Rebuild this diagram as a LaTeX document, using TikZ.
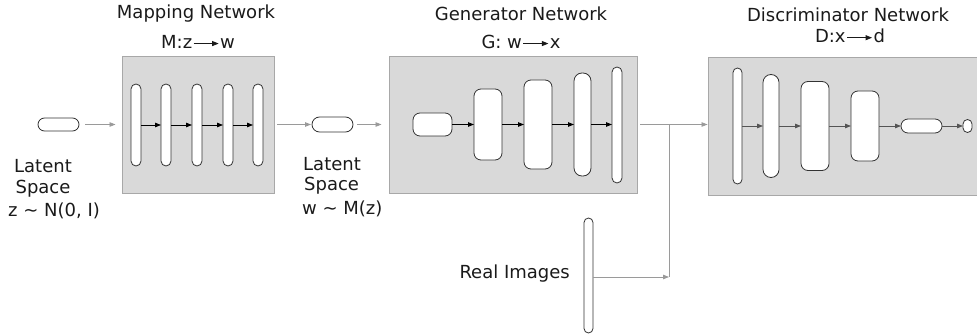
\documentclass[tikz,border=0pt]{standalone}
\usepackage{fontspec}
\setmainfont{DejaVu Sans}
\usetikzlibrary{arrows.meta}
\definecolor{panelfill}{HTML}{D9D9D9}
\definecolor{panelline}{HTML}{A8A8A8}
\definecolor{blkline}{HTML}{333333}
\definecolor{grayline}{HTML}{9A9A9A}
\definecolor{darkarrow}{HTML}{555555}
\definecolor{txt}{HTML}{1A1A1A}
\newcommand{\maparrow}{\hspace{1pt}\tikz[x=1pt,y=1pt,baseline=0pt]{\draw[line width=0.9pt,draw=txt,-{Triangle[length=6.5pt,width=5pt]}] (0,5) -- (25,5);}\hspace{1pt}}
\begin{document}
\begin{tikzpicture}[x=1pt,y=-1pt,
  panel/.style={draw=panelline, fill=panelfill, line width=0.9pt, inner sep=0pt},
  blk/.style={draw=blkline, fill=white, line width=0.8pt, inner sep=0pt, outer sep=0pt},
  lbl/.style={font=\fontsize{18}{21}\selectfont, text=txt, inner sep=0pt},
  blkarrow/.style={draw=black, -{Triangle[length=6pt,width=4.5pt]}, line width=0.8pt},
  darrow/.style={draw=darkarrow, -{Triangle[length=6pt,width=4.5pt]}, line width=0.8pt},
  grayarrow/.style={draw=grayline, -{Triangle[length=6pt,width=4.5pt]}, line width=0.8pt},
  grayline/.style={draw=grayline, line width=0.8pt},
]
\useasboundingbox (0,0) rectangle (977,334);

% ---------- panels ----------
\node[panel, minimum width=152pt, minimum height=137pt] (mapbox) at (198,124.5) {};
\node[panel, minimum width=248pt, minimum height=137pt] (genbox) at (513,124.5) {};
\node[panel, minimum width=270pt, minimum height=138pt] (discbox) at (843,126) {};

% ---------- titles ----------
\node[lbl] (maptitle) at (196,14) {Mapping Network};
\node[lbl] (mapfun) at (198,42) {M:z\maparrow w};
\node[lbl] (gentitle) at (521,14) {Generator Network};
\node[lbl] (genfun) at (521,42) {G: w\maparrow x};
\node[lbl] (disctitle) at (848,15) {Discriminator Network};
\node[lbl] (discfun) at (850,36) {D:x\maparrow d};

% ---------- latent z ----------
\node[blk, minimum width=41pt, minimum height=13pt, rounded corners=6.5pt] (zin) at (58.5,124.5) {};
\node[lbl] (zl1) at (43,166) {Latent};
\node[lbl] (zl2) at (43,189) {Space};
\node[lbl] (zl3) at (54,211) {z \textasciitilde{} N(0, I)};

% ---------- mapping bars ----------
\node[blk, minimum width=10pt, minimum height=82pt, rounded corners=5pt] (m1) at (136,125) {};
\node[blk, minimum width=10pt, minimum height=82pt, rounded corners=5pt] (m2) at (166,125) {};
\node[blk, minimum width=10pt, minimum height=82pt, rounded corners=5pt] (m3) at (197,125) {};
\node[blk, minimum width=10pt, minimum height=82pt, rounded corners=5pt] (m4) at (228,125) {};
\node[blk, minimum width=10pt, minimum height=82pt, rounded corners=5pt] (m5) at (258,125) {};
\draw[blkarrow] (m1) -- (m2);
\draw[blkarrow] (m2) -- (m3);
\draw[blkarrow] (m3) -- (m4);
\draw[blkarrow] (m4) -- (m5);

% ---------- latent w ----------
\node[blk, minimum width=41pt, minimum height=15pt, rounded corners=7.5pt] (win) at (332.5,124.5) {};
\node[lbl, anchor=west] (wl1) at (303,164) {Latent};
\node[lbl, anchor=west] (wl2) at (304,186) {Space};
\node[lbl, anchor=west] (wl3) at (302,209) {w \textasciitilde{} M(z)};

\draw[grayarrow, shorten <=6pt, shorten >=6pt] (zin) -- (mapbox);
\draw[grayarrow, shorten <=3pt, shorten >=1pt] (mapbox) -- (win);
\draw[grayarrow, shorten <=4pt, shorten >=7pt] (win) -- (genbox);

% ---------- generator ----------
\node[blk, minimum width=39pt, minimum height=23pt, rounded corners=7pt] (g1) at (432.5,124.5) {};
\node[blk, minimum width=28pt, minimum height=71pt, rounded corners=7pt] (g2) at (488,124.5) {};
\node[blk, minimum width=28pt, minimum height=89pt, rounded corners=7pt] (g3) at (538,124.5) {};
\node[blk, minimum width=17pt, minimum height=103pt, rounded corners=8pt] (g4) at (582.5,124.5) {};
\node[blk, minimum width=10pt, minimum height=116pt, rounded corners=5pt] (g5) at (617,125) {};
\draw[blkarrow] (g1) -- (g2);
\draw[blkarrow] (g2) -- (g3);
\draw[blkarrow] (g3) -- (g4);
\draw[blkarrow] (g4.east) -- (g5.west |- g4.east);

% ---------- real images ----------
\node[blk, minimum width=9pt, minimum height=115pt, rounded corners=4.5pt] (real) at (588.5,275.5) {};
\node[lbl, anchor=east] (reallbl) at (570,274) {Real Images};

\coordinate (jtop) at (669,124.5);
\coordinate (jbot) at (669,277);
\draw[grayarrow, shorten <=3pt] (genbox.east) -- (discbox.west |- genbox.east);
\draw[grayline] (jtop) -- (jbot);
\draw[grayarrow] (real.east |- jbot) -- (jbot);

% ---------- discriminator ----------
\node[blk, minimum width=9pt, minimum height=116pt, rounded corners=4.5pt] (d1) at (737.5,126) {};
\node[blk, minimum width=16pt, minimum height=103pt, rounded corners=8pt] (d2) at (771,126) {};
\node[blk, minimum width=28pt, minimum height=89pt, rounded corners=7pt] (d3) at (815,126) {};
\node[blk, minimum width=28pt, minimum height=70pt, rounded corners=7pt] (d4) at (865,126) {};
\node[blk, minimum width=41pt, minimum height=14pt, rounded corners=7pt] (d5) at (921.5,126) {};
\node[blk, minimum width=9pt, minimum height=13pt, rounded corners=4.5pt] (d6) at (967.5,126) {};
\draw[darrow] (d1) -- (d2);
\draw[darrow] (d2) -- (d3);
\draw[darrow] (d3) -- (d4);
\draw[darrow] (d4) -- (d5);
\draw[darrow] (d5) -- (d6);
\end{tikzpicture}
\end{document}
